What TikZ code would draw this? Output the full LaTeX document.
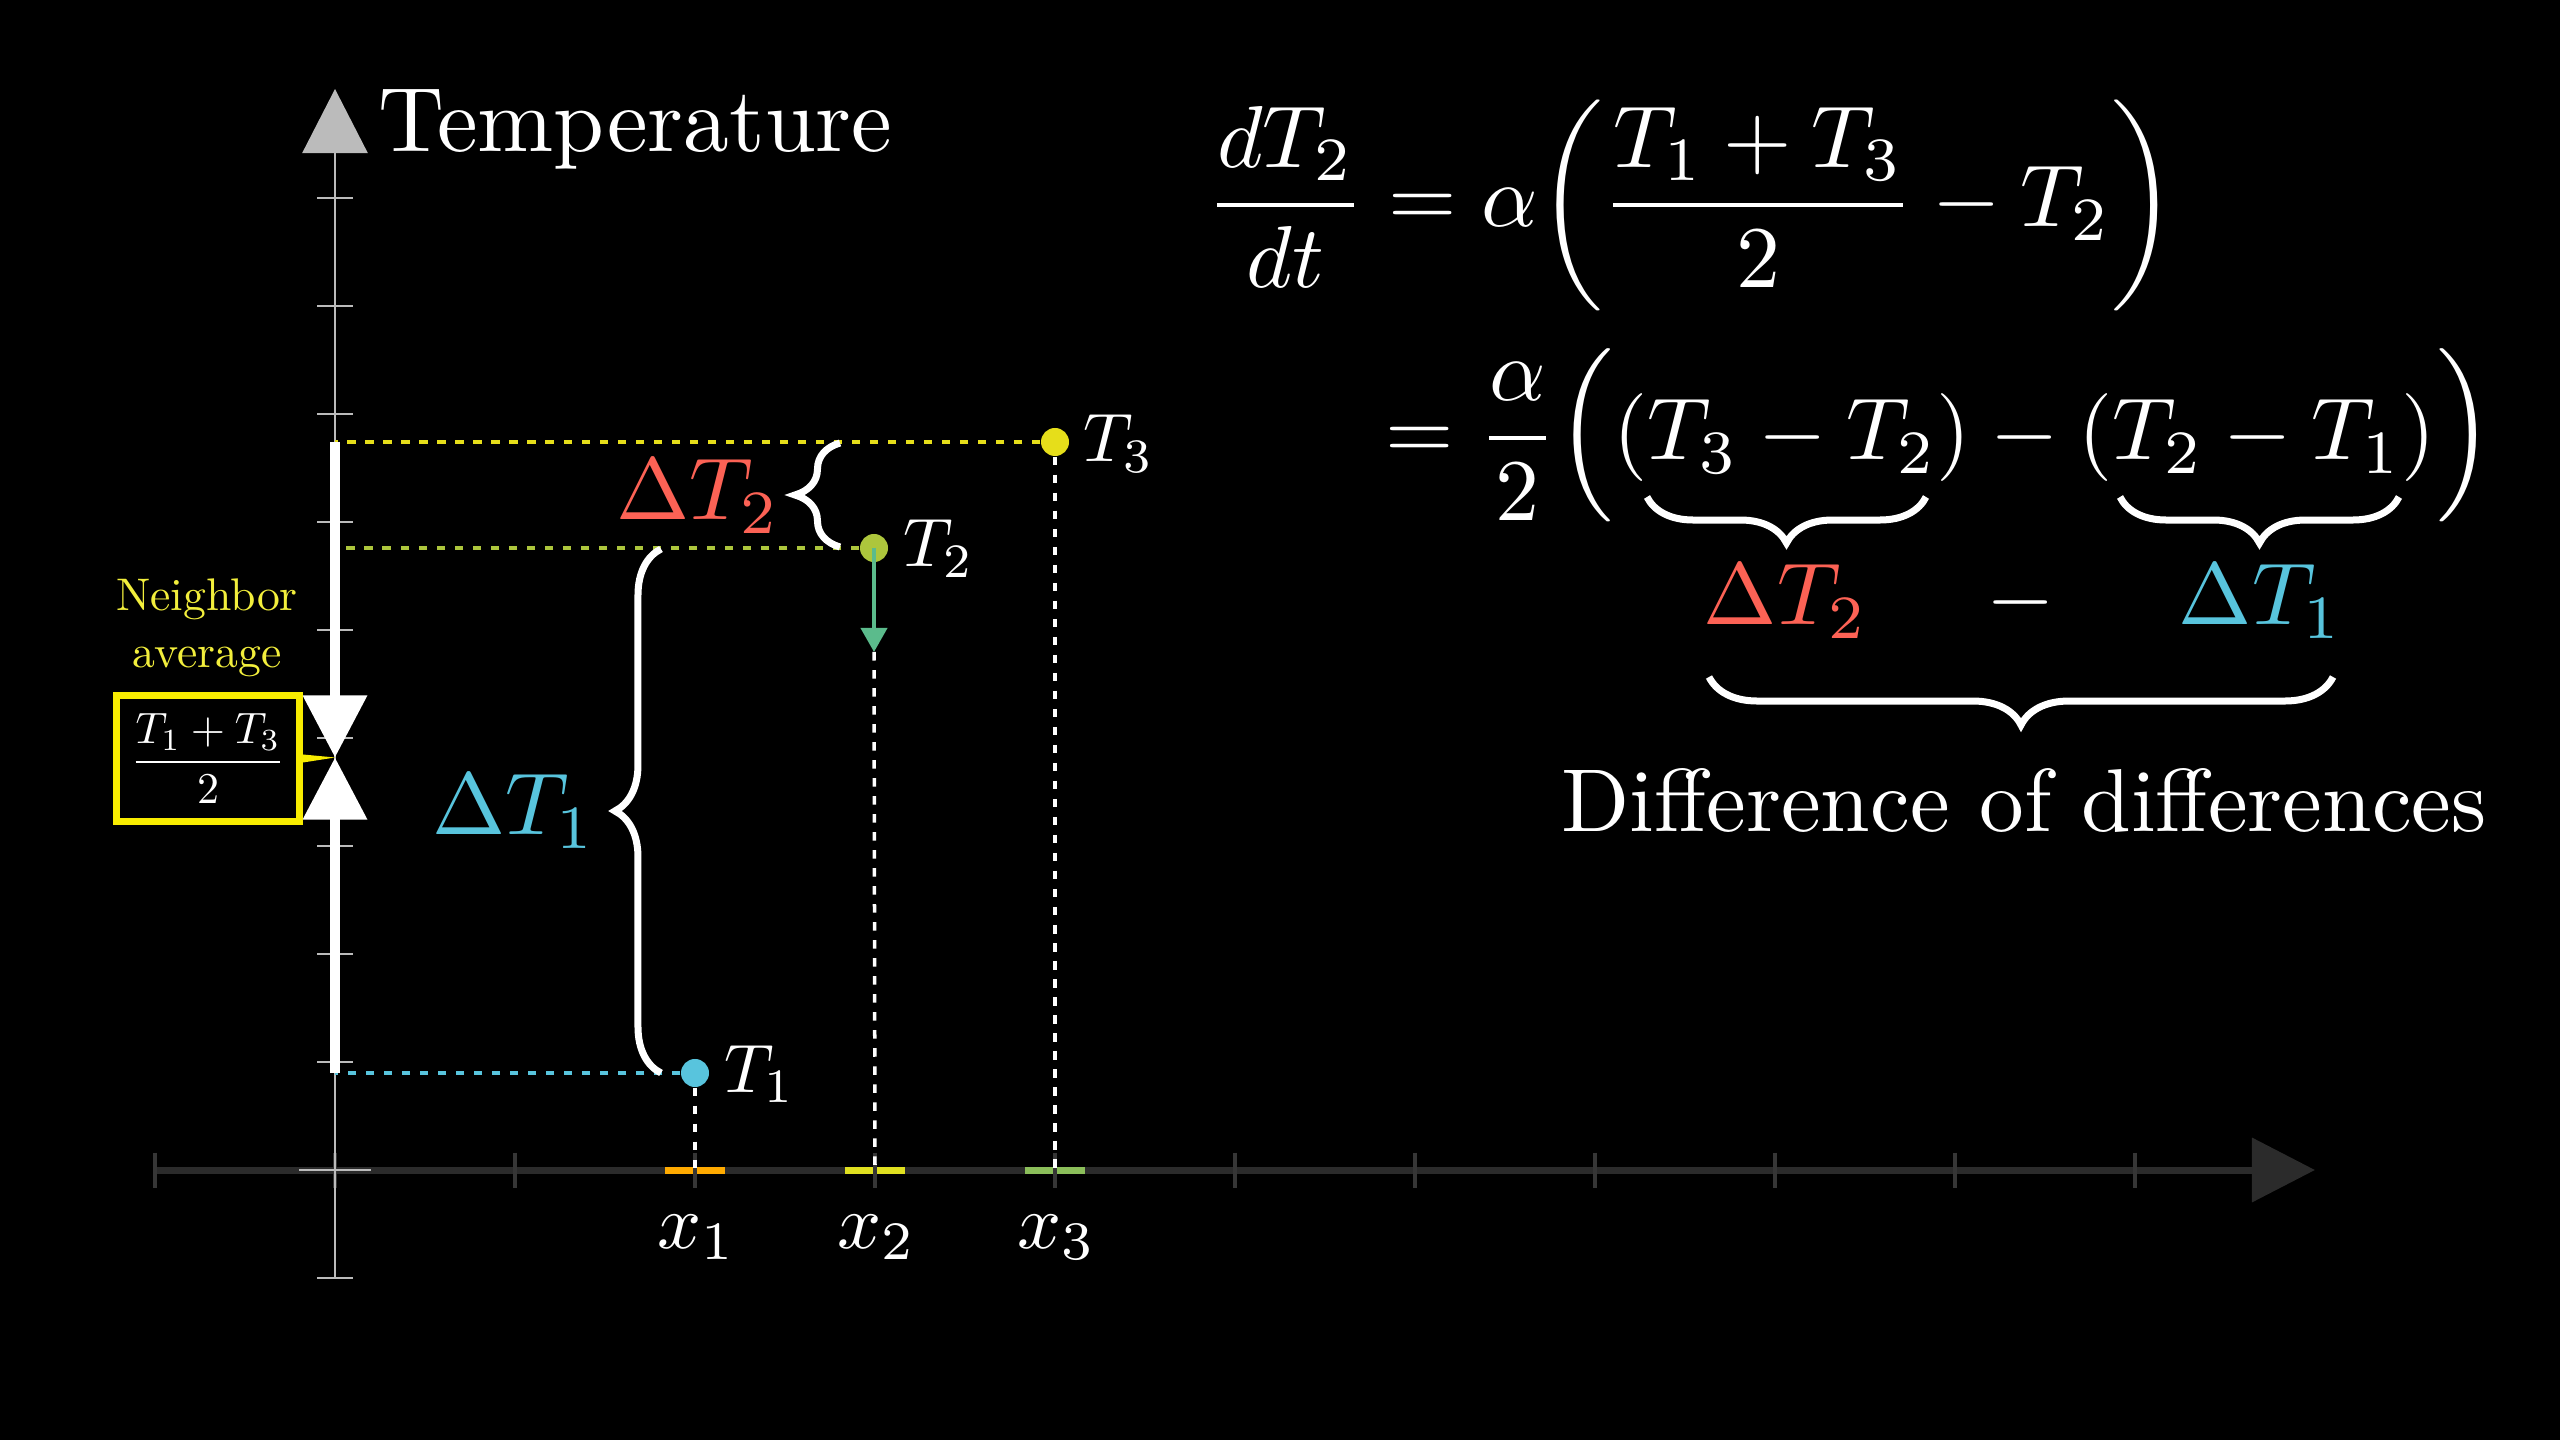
\RequirePackage{fix-cm}
\documentclass[tikz,border=0pt]{standalone}
\usepackage{amsmath}
\usepackage{graphicx}
\usetikzlibrary{arrows.meta,decorations.pathreplacing,calc}
\definecolor{axisdark}{HTML}{2B2B2B}
\definecolor{tickdark}{HTML}{363636}
\definecolor{axisgray}{HTML}{BBBBBB}
\definecolor{cblue}{HTML}{58C4DD}
\definecolor{cred}{HTML}{FC6255}
\definecolor{cyel}{HTML}{E6DE1A}
\definecolor{cyelgreen}{HTML}{ADC63C}
\definecolor{cgreen}{HTML}{5BBB8C}
\definecolor{corange}{HTML}{FFAA00}
\definecolor{cseg2}{HTML}{E0E020}
\definecolor{cseg3}{HTML}{8BBE5A}
\definecolor{boxyellow}{HTML}{F8EC00}
\definecolor{nbryellow}{HTML}{F2EE3C}
\newcommand{\Sbig}[1]{\scalebox{2.5}{#1}}
\newcommand{\Stemp}[1]{\scalebox{2.6}{#1}}
\newcommand{\Smed}[1]{\scalebox{1.95}{#1}}
\newcommand{\Sx}[1]{\scalebox{2.2}{#1}}
\newcommand{\Ssmall}[1]{\scalebox{1.25}{#1}}
\newcommand{\bigparen}[1]{\mbox{\fontsize{11.12}{13}\selectfont$#1$}}
\tikzset{
  dot/.style={circle, minimum size=0.28cm, inner sep=0pt},
  hdash/.style={line width=0.035cm, dash pattern=on 0.085cm off 0.095cm},
  vdash/.style={white, line width=0.035cm, dash pattern=on 0.085cm off 0.095cm},
  avgarrow/.style={white, line width=0.1cm, -{Triangle[width=0.62cm,length=0.62cm]}},
  bracestyle/.style={white, line width=0.07cm, decorate},
  lbl/.style={inner sep=0pt, text=white},
  xtick/.style={tickdark, line width=0.035cm},
  ytick/.style={axisgray, line width=0.025cm},
}
\begin{document}
\begin{tikzpicture}[x=0.01cm,y=-0.01cm]
\fill[black] (0,0) rectangle (2560,1440);
\useasboundingbox (0,0) rectangle (2560,1440);

% ---------- x axis ----------
\coordinate (xstart) at (155,1170);
\coordinate (xend) at (2315,1170);
\draw[axisdark, line width=0.07cm, -{Triangle[width=0.63cm,length=0.63cm]}] (xstart) -- (xend);
\draw[corange, line width=0.07cm] (665,1170) -- (725,1170);
\draw[cseg2, line width=0.07cm] (845,1170) -- (905,1170);
\draw[cseg3, line width=0.07cm] (1025,1170) -- (1085,1170);
\foreach \x in {155,335,515,695,875,1055,1235,1415,1595,1775,1955,2135}
  \draw[xtick] (\x,1152.5) -- (\x,1187.5);

% ---------- y axis ----------
\coordinate (ybot) at (335,1278);
\coordinate (ytop) at (335,89);
\draw[axisgray, line width=0.025cm, -{Triangle[width=0.65cm,length=0.64cm]}] (ybot) -- (ytop);
\foreach \y in {198,306,414,522,630,738,846,954,1062,1278}
  \draw[ytick] (317,\y) -- (353,\y);
\draw[ytick] (299,1170) -- (371,1170);
\node[lbl, anchor=base west] (templabel) at (378,152) {\Stemp{Temperature}};

% ---------- points ----------
\coordinate (y1) at (335,1073);
\coordinate (y2) at (335,548);
\coordinate (y3) at (335,442);
\coordinate (avg) at (335,757.5);
\coordinate (x1pt) at (695,1170);
\coordinate (x2pt) at (875,1170);
\coordinate (x3pt) at (1055,1170);
\coordinate (T2tip) at (874,652);

\node[dot] (T1dot) at (695,1073) {};
\node[dot] (T2dot) at (874,548) {};
\node[dot] (T3dot) at (1055,442) {};

% dashed guide lines
\draw[hdash, draw=cyel] (T3dot) -- (y3);
\draw[hdash, draw=cyelgreen] (T2dot) -- (y2);
\draw[hdash, draw=cblue] (T1dot) -- (y1);
\draw[vdash] (T1dot) -- (x1pt);
\draw[vdash] (T2tip) -- (x2pt);
\draw[vdash] (T3dot) -- (x3pt);

% neighbour-average arrows
\draw[avgarrow] (y3) -- (avg);
\draw[avgarrow] (y1) -- (avg);

% dots on top
\node[dot, fill=cblue] at (T1dot) {};
\node[dot, fill=cyelgreen] at (T2dot) {};
\node[dot, fill=cyel] at (T3dot) {};

\draw[cgreen, line width=0.04cm, -{Triangle[width=0.26cm,length=0.24cm]}] (T2dot.center) -- (T2tip);

% point labels
\node[lbl, anchor=base west] (T1lab) at (724,1092) {\Smed{$T_1$}};
\node[lbl, anchor=base west] (T2lab) at (903,567) {\Smed{$T_2$}};
\node[lbl, anchor=base west] (T3lab) at (1083,462) {\Smed{$T_3$}};
\node[lbl, anchor=base] (x1lab) at (697,1248) {\Sx{$x_1$}};
\node[lbl, anchor=base] (x2lab) at (877,1248) {\Sx{$x_2$}};
\node[lbl, anchor=base] (x3lab) at (1057,1248) {\Sx{$x_3$}};

% braces on the plot
\draw[bracestyle, decoration={brace, amplitude=0.46cm}] (661,1073) -- (661,549);
\draw[bracestyle, decoration={brace, amplitude=0.45cm}] (840,547) -- (840,443);
\node[lbl, anchor=base east, text=cblue] (dT1) at (597,835) {\Sbig{$\Delta T_1$}};
\node[lbl, anchor=base east, text=cred] (dT2) at (781,520) {\Sbig{$\Delta T_2$}};

% neighbour average box
\node[text=nbryellow, inner sep=0pt] (nbr) at (207,627.5)
  {\scalebox{1.3}{\renewcommand{\arraystretch}{1.04}\begin{tabular}{@{}c@{}}Neighbor\\average\end{tabular}}};
\node[draw=boxyellow, line width=0.07cm, minimum width=1.83cm, minimum height=1.26cm, inner sep=0pt, text=white] (box) at (208,758.5) {\Ssmall{$\dfrac{T_1+T_3}{2}$}};
\fill[boxyellow] ($(box.east)+(0,-4)$) -- (avg) -- ($(box.east)+(0,4)$) -- cycle;

% ---------- equations ----------
\node[lbl, anchor=base west] (eq1) at (1206,227)
  {\Sbig{$\dfrac{dT_2}{dt} = \alpha\biggl(\dfrac{T_1+T_3}{2} - T_2\biggr)$}};
\node[lbl, anchor=base west] (eq2) at (1385,460)
  {\Sbig{$= \dfrac{\alpha}{2}\bigparen{\Bigl(}(T_3 - T_2) - (T_2 - T_1)\bigparen{\Bigr)}$}};

\draw[bracestyle, decoration={brace, amplitude=0.46cm}] (1926,497) -- (1647,497);
\draw[bracestyle, decoration={brace, amplitude=0.46cm}] (2399,497) -- (2120,497);
\node[lbl, anchor=base, text=cred] (dT2b) at (1786,625) {\Sbig{$\Delta T_2$}};
\node[lbl, anchor=base] (minus) at (2021,625) {\Sbig{$-$}};
\node[lbl, anchor=base, text=cblue] (dT1b) at (2261,625) {\Sbig{$\Delta T_1$}};
\draw[bracestyle, decoration={brace, amplitude=0.48cm}] (2333,677) -- (1709,677);
\node[lbl, anchor=base] (diff) at (2024,832) {\scalebox{2.54}{Difference of differences}};
\end{tikzpicture}
\end{document}
